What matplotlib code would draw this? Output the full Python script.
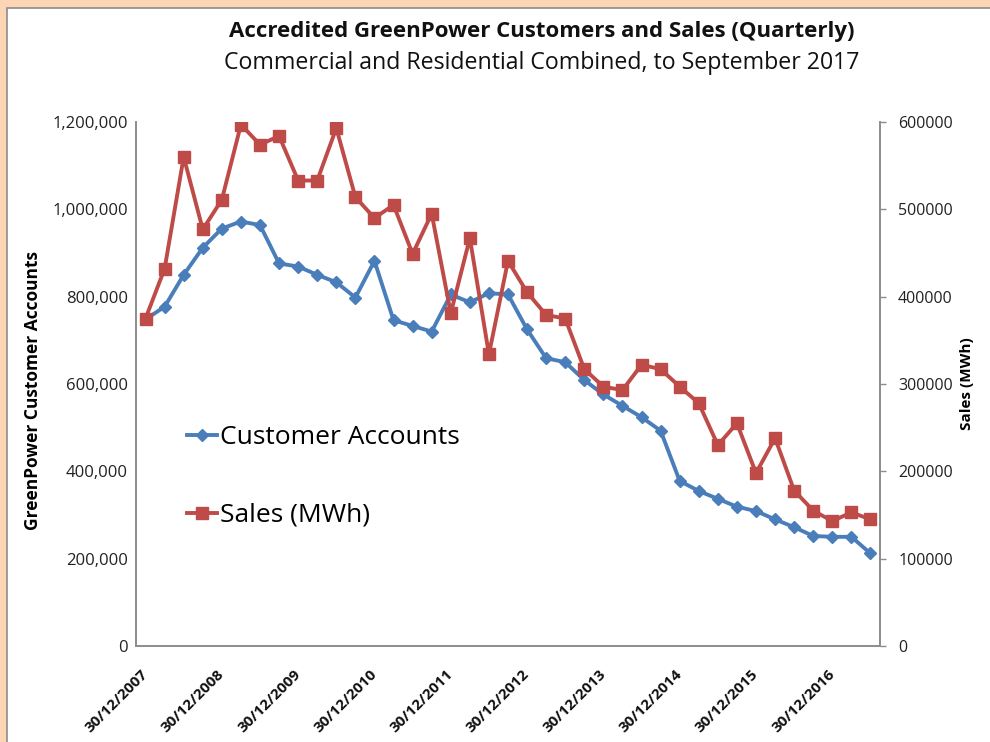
import numpy as np
import matplotlib
matplotlib.use("Agg")
import matplotlib.pyplot as plt
from matplotlib.patches import Rectangle
from matplotlib.ticker import FuncFormatter

plt.rcParams['font.family'] = ['Open Sans', 'DejaVu Sans']

customers = [748000, 777000, 850000, 912000, 956000, 972000, 964000, 876000, 869000, 850000,
             833000, 798000, 882000, 746000, 733000, 720000, 805000, 787000, 808000, 805000,
             725000, 659000, 650000, 609000, 576000, 550000, 524000, 493000, 378000, 355000,
             337000, 319000, 309000, 290000, 272000, 252000, 250000, 250000, 212000]
sales = [375000, 432000, 560000, 477000, 511000, 597000, 574000, 584000, 533000, 533000,
         593000, 514000, 490000, 505000, 449000, 495000, 381000, 467000, 334000, 441000,
         405000, 379000, 375000, 317000, 297000, 293000, 322000, 317000, 297000, 278000,
         230000, 255000, 198000, 238000, 178000, 155000, 143000, 153000, 145000]
tick_labels = ['30/12/2007', '30/12/2008', '30/12/2009', '30/12/2010', '30/12/2011',
               '30/12/2012', '30/12/2013', '30/12/2014', '30/12/2015', '30/12/2016']
tick_step = 4

W, H = 990, 742
fig = plt.figure(figsize=(W / 100, H / 100), dpi=100)
fig.patch.set_facecolor('#FCD5B4')
bg = Rectangle((7 / W, -0.01), 1.02, (H - 8) / H + 0.01, transform=fig.transFigure,
               facecolor='white', edgecolor='#8c8c8c', linewidth=1.2, zorder=-10)
fig.patches.append(bg)

ax = fig.add_axes([136 / W, (H - 646) / H, (880 - 136) / W, (646 - 122) / H])
ax.set_facecolor('none')
ax2 = ax.twinx()
ax2.set_facecolor('none')

x = np.arange(len(customers))
blue = '#4A7EBB'
red = '#BE4B48'
l1, = ax.plot(x, customers, color=blue, lw=2.8, marker='D', ms=6.5, mec=blue, mfc=blue,
              label='Customer Accounts', zorder=3)
l2, = ax2.plot(x, sales, color=red, lw=2.8, marker='s', ms=8, mec=red, mfc=red,
               label='Sales (MWh)', zorder=3)

ax.set_xlim(-0.5, len(customers) - 0.5)
ax.set_ylim(0, 1200000)
ax2.set_ylim(0, 600000)
ax.set_yticks(np.arange(0, 1200001, 200000))
ax2.set_yticks(np.arange(0, 600001, 100000))
ax.yaxis.set_major_formatter(FuncFormatter(lambda v, p: f'{int(v):,}'))
ax2.yaxis.set_major_formatter(FuncFormatter(lambda v, p: f'{int(v)}'))

ticks = np.arange(0, len(customers), tick_step)[:len(tick_labels)]
ax.set_xticks(ticks)
ax.set_xticklabels(tick_labels, rotation=45, ha='right', va='center', rotation_mode='anchor',
                   fontsize=11, fontweight='bold', color='#111111')
ax.tick_params(axis='x', length=0, pad=19)
ax.tick_params(axis='y', length=0, pad=6, labelsize=12, labelcolor='#222222')
ax2.tick_params(axis='y', length=4, width=1, color='#8c8c8c', pad=9, labelsize=11.5,
                labelcolor='#222222')

for a in (ax, ax2):
    for s in a.spines.values():
        s.set_color('#8c8c8c')
        s.set_linewidth(1.2)
    a.spines['top'].set_visible(False)

ax.set_ylabel('GreenPower Customer Accounts', fontsize=12.5, fontweight='bold', labelpad=0)
ax.yaxis.set_label_coords((42 - 136) / (880 - 136), 0.487)
ax2.set_ylabel('Sales (MWh)', fontsize=11, fontweight='bold', rotation=90)
ax2.yaxis.set_label_coords((960 - 136) / (880 - 136), 0.5)

fig.text(542 / W, 1 - 31 / H, 'Accredited GreenPower Customers and Sales (Quarterly)',
         ha='center', va='center', fontsize=16, fontweight='bold', color='#111111')
fig.text(542 / W, 1 - 63 / H, 'Commercial and Residential Combined, to September 2017',
         ha='center', va='center', fontsize=16.7, color='#111111')

leg = ax.legend(handles=[l1, l2], loc='upper left', bbox_to_anchor=((187 - 136) / 744, (646 - 425) / 524),
                frameon=False, fontsize=19, handlelength=1.15, handletextpad=0.1,
                labelspacing=2.0, numpoints=1, borderaxespad=0, borderpad=0)

fig.savefig('out.png', dpi=100, facecolor=fig.get_facecolor())
